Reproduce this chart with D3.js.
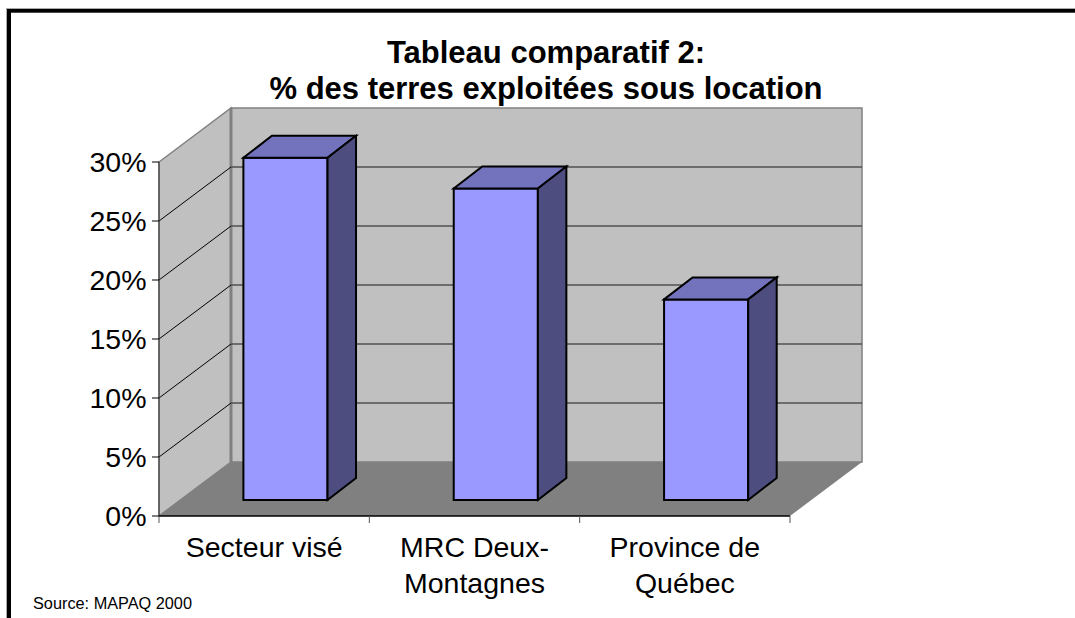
<!DOCTYPE html>
<html><head><meta charset="utf-8">
<script src="https://cdn.jsdelivr.net/npm/d3@7"></script>
<style>html,body{margin:0;padding:0;background:#fff}svg{display:block}text{font-family:"Liberation Sans",Arial,sans-serif;fill:#000}</style>
</head><body><div id="chart"></div>
<script>
const categories = [["Secteur visé"],["MRC Deux-","Montagnes"],["Province de","Québec"]];
const values = [29, 26.4, 17];
const yTicks = [0,5,10,15,20,25,30];
const titleLines = ["Tableau comparatif 2:","% des terres exploitées sous location"];
const source = "Source: MAPAQ 2000";

const W=1075,H=618;
const svg=d3.select("#chart").append("svg").attr("width",W).attr("height",H);
const x=d3.scaleBand().domain(d3.range(categories.length)).range([159,790]).paddingInner(0.6).paddingOuter(0.3);
const y=d3.scaleLinear().domain([0,30]).range([516,162]);
const backDx=72, backDy=-54;          // wall depth
const barShift=[21.3,-16], barDepth=[28.5,-22]; // bar position within the depth
const pts=a=>a.map(p=>p.join(",")).join(" ");

// frame
svg.append("rect").attr("x",6).attr("y",8).attr("width",W-6).attr("height",1).attr("fill","#aaa");
svg.append("rect").attr("x",6).attr("y",8).attr("width",1).attr("height",H-8).attr("fill","#aaa");
svg.append("rect").attr("x",7).attr("y",9).attr("width",W-7).attr("height",3.7).attr("fill","#000");
svg.append("rect").attr("x",7).attr("y",9).attr("width",4).attr("height",H-9).attr("fill","#000");

const x0=x.range()[0],x1=x.range()[1],y0=y(0),yT=y(30);
// back wall
svg.append("polygon").attr("points",pts([[x0+backDx,yT+backDy],[x1+backDx,yT+backDy],[x1+backDx,y0+backDy],[x0+backDx,y0+backDy]]))
  .attr("fill","#c0c0c0").attr("stroke","#808080").attr("stroke-width",1.5);
// side wall
svg.append("polygon").attr("points",pts([[x0,yT],[x0+backDx,yT+backDy],[x0+backDx,y0+backDy],[x0,y0]]))
  .attr("fill","#c0c0c0").attr("stroke","#808080").attr("stroke-width",1.5);
svg.append("line").attr("x1",x0+backDx).attr("x2",x0+backDx).attr("y1",yT+backDy).attr("y2",y0+backDy).attr("stroke","#808080").attr("stroke-width",3);
// floor
svg.append("polygon").attr("points",pts([[x0,y0],[x1,y0],[x1+backDx,y0+backDy],[x0+backDx,y0+backDy]])).attr("fill","#808080");

// gridlines
const gridTicks=yTicks.filter(t=>t>0&&t<30);
svg.append("g").selectAll("line").data(gridTicks).join("line")
  .attr("x1",x0+backDx).attr("x2",x1+backDx).attr("y1",d=>y(d)+backDy).attr("y2",d=>y(d)+backDy)
  .attr("stroke","#505050").attr("stroke-width",1.5);
svg.append("g").selectAll("line").data(gridTicks).join("line")
  .attr("x1",x0).attr("x2",x0+backDx).attr("y1",d=>y(d)).attr("y2",d=>y(d)+backDy)
  .attr("stroke","#000").attr("stroke-width",1);

// axes lines
svg.append("line").attr("x1",x0).attr("x2",x0).attr("y1",yT).attr("y2",y0).attr("stroke","#333").attr("stroke-width",1);
svg.append("line").attr("x1",x0).attr("x2",x1).attr("y1",y0).attr("y2",y0).attr("stroke","#000").attr("stroke-width",1.5);
svg.append("g").selectAll("line").data(yTicks).join("line")
  .attr("x1",x0-7).attr("x2",x0).attr("y1",d=>y(d)).attr("y2",d=>y(d)).attr("stroke","#000");
const step=x.step();
svg.append("g").selectAll("line").data(d3.range(categories.length+1)).join("line")
  .attr("x1",i=>x0+i*step).attr("x2",i=>x0+i*step).attr("y1",y0).attr("y2",y0+7).attr("stroke","#555");

// y labels
svg.append("g").selectAll("text").data(yTicks).join("text")
  .attr("x",x0-12.5).attr("y",d=>y(d)+10).attr("text-anchor","end").attr("font-size",28.5).text(d=>d+"%");

// bars
const bars=svg.append("g").attr("stroke","#000").attr("stroke-width",2).attr("stroke-linejoin","miter")
  .selectAll("g").data(values).join("g");
const bw=x.bandwidth(),dX=barDepth[0],dY=barDepth[1];
const L=i=>x(i)+barShift[0], B=barShift[1];
const topY=d=>y(d)+B;
bars.append("polygon").attr("fill","#9999ff")
  .attr("points",(d,i)=>pts([[L(i),topY(d)],[L(i)+bw,topY(d)],[L(i)+bw,y0+B],[L(i),y0+B]]));
bars.append("polygon").attr("fill","#7373bd")
  .attr("points",(d,i)=>pts([[L(i),topY(d)],[L(i)+dX,topY(d)+dY],[L(i)+bw+dX,topY(d)+dY],[L(i)+bw,topY(d)]]));
bars.append("polygon").attr("fill","#4d4d80")
  .attr("points",(d,i)=>pts([[L(i)+bw,topY(d)],[L(i)+bw+dX,topY(d)+dY],[L(i)+bw+dX,y0+B+dY],[L(i)+bw,y0+B]]));

// category labels
svg.append("g").selectAll("text").data(categories).join("text")
  .attr("text-anchor","middle").attr("font-size",28.5)
  .each(function(lines,i){
    d3.select(this).selectAll("tspan").data(lines).join("tspan")
      .attr("x",x0+(i+0.5)*step).attr("y",(l,k)=>557+k*36).text(l=>l);
  });

// title
svg.append("g").selectAll("text").data(titleLines).join("text")
  .attr("x",546).attr("y",(d,i)=>63+i*36).attr("text-anchor","middle")
  .attr("font-size",31).attr("font-weight","bold").text(d=>d);

svg.append("text").attr("x",33).attr("y",608.5).attr("font-size",16.3).text(source);
</script></body></html>
